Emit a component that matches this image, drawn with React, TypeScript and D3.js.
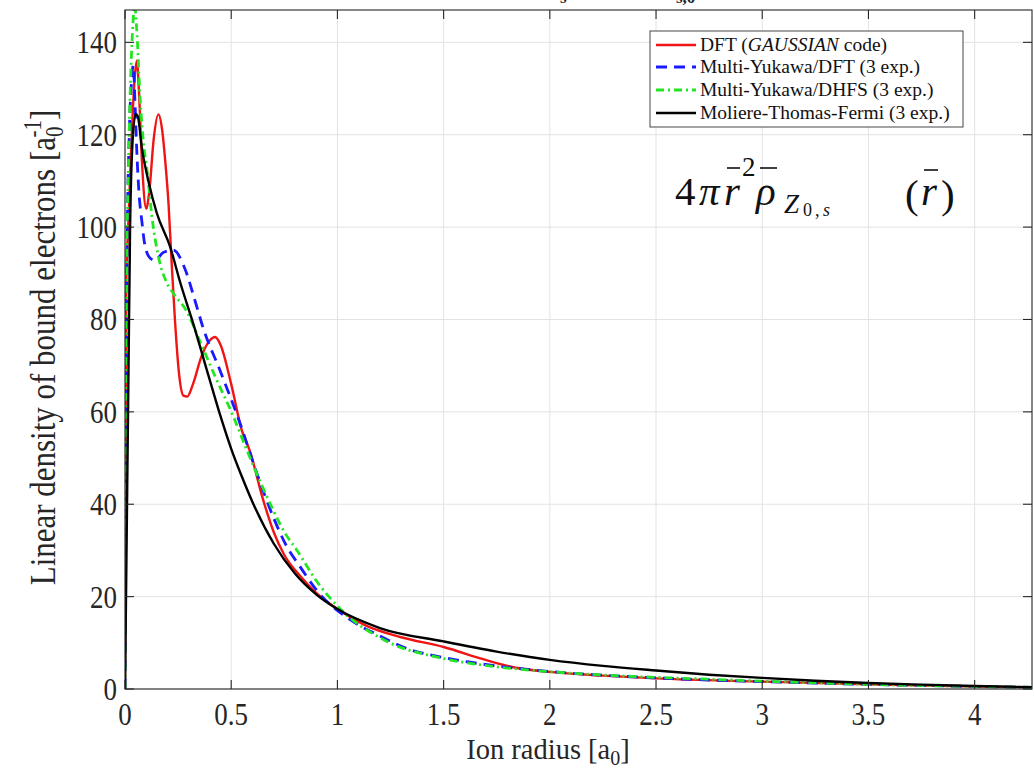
import React from "react";
import * as d3 from "d3";

// ---------- data ----------
const xDomain = [0, 4.27];
const yDomain = [0, 147];
const xTickValues = [0, 0.5, 1, 1.5, 2, 2.5, 3, 3.5, 4];
const xTickLabels = ["0", "0.5", "1", "1.5", "2", "2.5", "3", "3.5", "4"];
const yTickValues = [0, 20, 40, 60, 80, 100, 120, 140];
const yTickLabels = ["0", "20", "40", "60", "80", "100", "120", "140"];

const seriesNames = [
  "DFT (GAUSSIAN code)",
  "Multi-Yukawa/DFT (3 exp.)",
  "Multi-Yukawa/DHFS (3 exp.)",
  "Moliere-Thomas-Fermi (3 exp.)",
];

const dftR = [0, 0.003, 0.006, 0.015, 0.03, 0.045, 0.056, 0.065, 0.08, 0.1, 0.115, 0.135, 0.157, 0.175, 0.19, 0.205, 0.22, 0.235, 0.255, 0.275, 0.293, 0.32, 0.36, 0.4, 0.424, 0.45, 0.5, 0.55, 0.588, 0.65, 0.7, 0.75, 0.824, 0.9, 1.0, 1.14, 1.3, 1.5, 1.69, 1.84, 2.0, 2.25, 2.5, 3.0, 3.5, 4.0, 4.27];
const dftV = [0, 55, 88, 100, 118, 132, 136, 130, 114, 104, 108, 119, 124.4, 121, 114, 105, 92, 80, 68, 63.5, 63.3, 66, 72, 75.5, 76.2, 74.5, 66, 56, 51.5, 41, 34, 29, 24.5, 20.8, 17.3, 13.6, 11.2, 9.1, 6.4, 4.6, 3.7, 2.9, 2.3, 1.6, 1.0, 0.55, 0.35];

const myDftR = [0, 0.004, 0.01, 0.02, 0.03, 0.039, 0.047, 0.055, 0.065, 0.08, 0.094, 0.12, 0.141, 0.18, 0.227, 0.282, 0.33, 0.369, 0.447, 0.541, 0.62, 0.7, 0.76, 0.824, 0.9, 1.06, 1.2, 1.325, 1.5, 1.61, 1.8, 2.0, 2.5, 3.0, 3.5, 4.0, 4.27];
const myDftV = [0, 50, 95, 120, 131, 135, 127, 117, 108, 101, 96, 93.2, 92.8, 94.5, 95, 91, 84, 78, 69, 57.6, 46.8, 37, 31, 26.5, 21.5, 15, 11.5, 8.8, 6.8, 5.9, 4.7, 3.8, 2.4, 1.6, 1.0, 0.55, 0.35];

const myDhfsR = [0, 0.003, 0.008, 0.015, 0.025, 0.035, 0.045, 0.055, 0.071, 0.09, 0.102, 0.118, 0.125, 0.157, 0.196, 0.227, 0.29, 0.36, 0.424, 0.51, 0.573, 0.65, 0.7, 0.75, 0.81, 0.9, 1.01, 1.22, 1.5, 1.75, 2.0, 2.35, 2.7, 3.0, 3.5, 4.0, 4.27];
const myDhfsV = [0, 50, 90, 110, 130, 142, 148, 143, 128, 117, 113, 106, 103, 93.7, 88, 85.7, 81.8, 74.5, 67.7, 59, 51.8, 43.5, 38.5, 34, 30, 23.5, 17.5, 10.6, 6.6, 4.8, 3.75, 2.8, 2.2, 1.7, 1.0, 0.55, 0.35];

const mtfR = [0, 0.006, 0.016, 0.024, 0.035, 0.05, 0.06, 0.08, 0.11, 0.15, 0.212, 0.26, 0.322, 0.392, 0.45, 0.5, 0.55, 0.6, 0.7, 0.8, 0.9, 1.0, 1.2, 1.5, 1.75, 2.0, 2.25, 2.5, 2.75, 3.0, 3.25, 3.5, 3.75, 4.0, 4.27];
const mtfV = [0, 25, 67, 100, 118, 124.5, 124, 117, 110, 103, 95.8, 88, 79, 68, 59, 52, 46, 40.5, 31.5, 25, 20.5, 17.3, 13.2, 10.3, 8.1, 6.3, 5.0, 4.0, 3.1, 2.4, 1.8, 1.3, 0.95, 0.65, 0.4];

const seriesColors = ["#f01414", "#1a1aff", "#22e622", "#000000"];
const seriesDash = ["none", "11,7", "8,4,2,4", "none"];
const seriesWidth = [2.4, 2.8, 2.8, 2.4];

const FONT = "'Liberation Serif', serif";

export default function App() {
  const W = 1034;
  const H = 771;
  const left = 125;
  const right = 1032;
  const top = 10;
  const bottom = 689;

  const x = d3.scaleLinear().domain(xDomain).range([left, right]);
  const y = d3.scaleLinear().domain(yDomain).range([bottom, top]);

  const data = [
    d3.zip(dftR, dftV),
    d3.zip(myDftR, myDftV),
    d3.zip(myDhfsR, myDhfsV),
    d3.zip(mtfR, mtfV),
  ];

  const line = d3
    .line<number[]>()
    .x((d) => x(d[0]))
    .y((d) => y(d[1]))
    .curve(d3.curveMonotoneX);

  const tickLen = 9;
  const axisColor = "#262626";
  const gridColor = "#e3e3e3";
  const stretch = 1.15;

  const legX = 650;
  const legY = 31;
  const legRows = [45, 67, 90, 113];

  return (
    <svg
      width={W}
      height={H}
      style={{ position: "absolute", left: 0, top: 0, background: "#fff" }}
      fontFamily={FONT}
    >
      <rect x={0} y={0} width={W} height={H} fill="#fff" />
      <defs>
        <clipPath id="plotClip">
          <rect x={left} y={top} width={right - left} height={bottom - top} />
        </clipPath>
      </defs>

      {/* partially hidden title (cut at the top in the reference) */}
      <text y={3} fontSize={17} fontWeight="bold" fill="#222">
        <tspan x={560}>s</tspan>
        <tspan x={676}>s,0</tspan>
      </text>

      {/* grid */}
      <g stroke={gridColor} strokeWidth={1}>
        {xTickValues.map((v) => (
          <line key={"gx" + v} x1={x(v)} x2={x(v)} y1={top} y2={bottom} />
        ))}
        {yTickValues.map((v) => (
          <line key={"gy" + v} x1={left} x2={right} y1={y(v)} y2={y(v)} />
        ))}
      </g>

      {/* curves */}
      <g clipPath="url(#plotClip)" fill="none">
        {data.map((d, i) => (
          <path
            key={"s" + i}
            d={line(d) || ""}
            stroke={seriesColors[i]}
            strokeWidth={seriesWidth[i]}
            strokeDasharray={seriesDash[i]}
            strokeLinejoin="round"
          />
        ))}
      </g>

      {/* frame and ticks */}
      <g stroke={axisColor} strokeWidth={1.1}>
        <rect x={left} y={top} width={right - left} height={bottom - top} fill="none" />
        {xTickValues.map((v) => (
          <g key={"tx" + v}>
            <line x1={x(v)} x2={x(v)} y1={bottom} y2={bottom - tickLen} />
            <line x1={x(v)} x2={x(v)} y1={top} y2={top + tickLen} />
          </g>
        ))}
        {yTickValues.map((v) => (
          <g key={"ty" + v}>
            <line x1={left} x2={left + tickLen} y1={y(v)} y2={y(v)} />
            <line x1={right} x2={right - tickLen} y1={y(v)} y2={y(v)} />
          </g>
        ))}
      </g>

      {/* tick labels */}
      <g fontSize={27} fill="#262626">
        {xTickValues.map((v, i) => (
          <text
            key={"lx" + v}
            transform={`translate(${x(v)}, ${bottom + 36}) scale(1, ${stretch})`}
            textAnchor="middle"
          >
            {xTickLabels[i]}
          </text>
        ))}
        {yTickValues.map((v, i) => (
          <text
            key={"ly" + v}
            transform={`translate(${left - 8}, ${y(v) + 11}) scale(1, ${stretch})`}
            textAnchor="end"
          >
            {yTickLabels[i]}
          </text>
        ))}
      </g>

      {/* axis titles */}
      <text
        transform={`translate(548, 759) scale(1, 1.05)`}
        fontSize={28.5}
        textAnchor="middle"
        fill="#262626"
      >
        Ion radius [a<tspan dy={6} fontSize={20}>0</tspan>
        <tspan dy={-6}>]</tspan>
      </text>
      <text
        transform={`translate(55, ${(top + bottom) / 2 - 2}) rotate(-90) scale(1, ${stretch})`}
        fontSize={31}
        textAnchor="middle"
        fill="#262626"
      >
        Linear density of bound electrons [a
        <tspan dy={7} fontSize={21}>0</tspan>
        <tspan dy={-19} dx={-11} fontSize={21}>-1</tspan>
        <tspan dy={12}>]</tspan>
      </text>

      {/* legend */}
      <rect
        x={legX}
        y={legY}
        width={313}
        height={96}
        fill="#fff"
        stroke="#333"
        strokeWidth={0.9}
      />
      {seriesNames.map((name, i) => (
        <g key={"leg" + i}>
          <line
            x1={legX + 6}
            x2={legX + 46}
            y1={legRows[i]}
            y2={legRows[i]}
            stroke={seriesColors[i]}
            strokeWidth={seriesWidth[i]}
            strokeDasharray={seriesDash[i]}
          />
          <text x={legX + 50} y={legRows[i] + 6} fontSize={19.5} fill="#111">
            {i === 0 ? (
              <>
                DFT (<tspan fontStyle="italic">GAUSSIAN</tspan> code)
              </>
            ) : (
              name
            )}
          </text>
        </g>
      ))}

      {/* formula annotation */}
      <g fill="#111" fontFamily={FONT}>
        <text x={675} y={205} fontSize={41}>4</text>
        <text x={699} y={205} fontSize={41} fontStyle="italic">π</text>
        <text x={724} y={205} fontSize={41} fontStyle="italic">r</text>
        <text x={742} y={176} fontSize={27}>2</text>
        <text x={756} y={205} fontSize={41} fontStyle="italic">ρ</text>
        <text x={784} y={213} fontSize={27} fontStyle="italic">Z</text>
        <text x={803} y={216} fontSize={18}>0</text>
        <text x={815} y={216} fontSize={18}>,</text>
        <text x={823} y={216} fontSize={18} fontStyle="italic">s</text>
        <text x={905} y={208} fontSize={41}>(</text>
        <text x={921} y={205} fontSize={41} fontStyle="italic">r</text>
        <text x={941} y={208} fontSize={41}>)</text>
        <g stroke="#111" strokeWidth={1.6}>
          <line x1={727} x2={740} y1={168} y2={168} />
          <line x1={760} x2={777} y1={168} y2={168} />
          <line x1={924} x2={938} y1={170} y2={170} />
        </g>
      </g>
    </svg>
  );
}
